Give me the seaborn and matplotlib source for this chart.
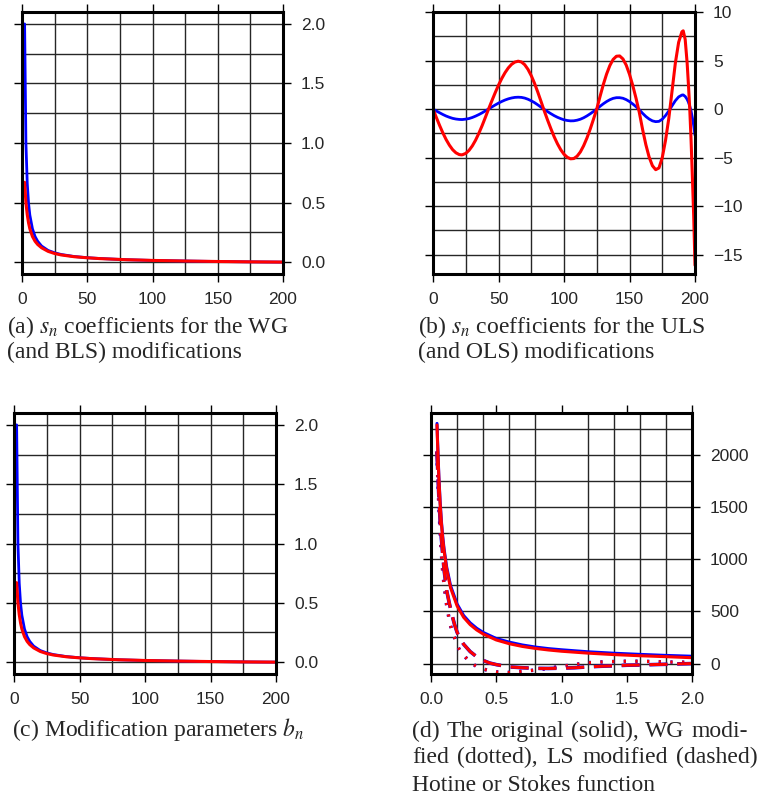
import numpy as np
import pandas as pd
import matplotlib
matplotlib.use("Agg")
import matplotlib.pyplot as plt
from matplotlib.ticker import MultipleLocator
import seaborn as sns

# (a) s_n coefficients, WG (blue) and BLS (red)
n_a = [2, 3, 4, 5, 6, 8, 10, 12, 15, 20, 25, 30, 40, 50, 60, 80, 100, 125, 150, 175, 200]
sn_wg = [2.0, 1.0, 0.665, 0.495, 0.395, 0.28, 0.215, 0.175, 0.135, 0.098, 0.078, 0.064,
         0.047, 0.037, 0.030, 0.020, 0.014, 0.009, 0.005, 0.002, 0.0]
sn_bls = [0.67, 0.50, 0.40, 0.33, 0.28, 0.215, 0.175, 0.148, 0.12, 0.09, 0.072, 0.06,
          0.045, 0.036, 0.029, 0.020, 0.014, 0.009, 0.005, 0.002, 0.0]

# (b) s_n coefficients, ULS (blue) and OLS (red)
n_b = [0, 2.5, 5, 7.5, 10, 12.5, 15, 17.5, 20, 21.6,
       22.5, 25, 27.5, 30, 32.5, 35, 37.5, 40, 42.5, 45,
       47.5, 50, 52.5, 55, 57.5, 60, 62.5, 65, 67.5, 70,
       72.5, 75, 77.5, 80, 82.5, 85, 87.5, 90, 92.5, 95,
       97.5, 100, 102.5, 105, 107.5, 110, 112.5, 115, 117.5, 120,
       122.5, 125, 127.5, 130, 132.5, 135, 137.5, 140, 142.5, 145,
       147.5, 150, 152.5, 155, 157.5, 160, 162.5, 165, 167.5, 170,
       172.5, 175, 177.5, 180, 182.5, 185, 187.5, 190, 191, 192.5,
       194, 195, 196, 197, 198, 199, 200]
sn_ols = [0.0, -0.85, -1.68, -2.45, -3.14, -3.72, -4.19, -4.51, -4.69, -4.72,
          -4.71, -4.57, -4.26, -3.80, -3.21, -2.50, -1.71, -0.85, 0.03, 0.87,
          1.69, 2.46, 3.15, 3.75, 4.24, 4.61, 4.84, 4.93, 4.85, 4.57,
          4.09, 3.44, 2.65, 1.74, 0.77, -0.22, -1.15, -2.03, -2.86, -3.58,
          -4.19, -4.66, -4.97, -5.13, -5.10, -4.86, -4.42, -3.78, -2.99, -2.07,
          -1.05, 0.0, 1.29, 2.52, 3.60, 4.48, 5.11, 5.44, 5.47, 5.16,
          4.52, 3.58, 2.42, 1.10, -0.36, -2.11, -3.68, -4.96, -5.84, -6.25,
          -6.07, -5.01, -3.23, -0.96, 1.88, 4.74, 6.87, 7.96, 8.06, 7.18,
          4.74, 2.49, 0.0, -3.2, -7.0, -11.0, -16.1]
sn_uls = [0.0, -0.20, -0.38, -0.56, -0.72, -0.85, -0.96, -1.03, -1.07, -1.08,
          -1.08, -1.04, -0.98, -0.87, -0.73, -0.57, -0.39, -0.19, 0.01, 0.22,
          0.42, 0.61, 0.78, 0.93, 1.05, 1.14, 1.20, 1.22, 1.20, 1.13,
          1.01, 0.85, 0.66, 0.43, 0.19, -0.05, -0.27, -0.48, -0.68, -0.85,
          -0.99, -1.11, -1.18, -1.22, -1.21, -1.15, -1.05, -0.90, -0.71, -0.49,
          -0.25, 0.0, 0.28, 0.54, 0.77, 0.96, 1.10, 1.17, 1.17, 1.11,
          0.97, 0.77, 0.52, 0.24, -0.07, -0.44, -0.77, -1.03, -1.22, -1.30,
          -1.27, -1.05, -0.67, -0.20, 0.34, 0.86, 1.25, 1.44, 1.46, 1.30,
          1.00, 0.70, 0.30, -0.20, -0.90, -1.70, -2.70]

# (c) modification parameters b_n
n_c = [2, 3, 4, 5, 6, 8, 10, 12, 15, 20, 25, 30, 40, 50, 60, 80, 100, 125, 150, 175, 200]
bn_blue = [2.0, 1.0, 0.665, 0.495, 0.395, 0.28, 0.215, 0.175, 0.135, 0.098, 0.078, 0.064,
           0.047, 0.037, 0.030, 0.020, 0.014, 0.009, 0.005, 0.002, 0.0]
bn_red = [0.67, 0.50, 0.40, 0.33, 0.28, 0.215, 0.175, 0.148, 0.12, 0.09, 0.072, 0.06,
          0.045, 0.036, 0.029, 0.020, 0.014, 0.009, 0.005, 0.002, 0.0]

# (d) original / modified Stokes (blue) and Hotine (red) functions
psi = [0.046, 0.05, 0.06, 0.07, 0.08, 0.09, 0.1, 0.12, 0.15, 0.2, 0.25, 0.3, 0.35, 0.4,
       0.5, 0.6, 0.7, 0.8, 0.9, 1.0, 1.2, 1.4, 1.6, 1.8, 2.0]
stokes = [2300, 2140, 1800, 1550, 1360, 1215, 1100, 925, 745, 570, 460, 390, 338, 298,
          240, 205, 178, 158, 143, 132, 113, 99, 88, 78, 70]
hotine = [2285, 2120, 1780, 1530, 1340, 1195, 1080, 905, 725, 552, 443, 373, 322, 283,
          226, 190, 164, 145, 130, 118, 100, 86, 75, 66, 56]
psi_mod = [0.045, 0.05, 0.06, 0.07, 0.08, 0.09, 0.1, 0.12, 0.14, 0.16, 0.18, 0.2, 0.22,
           0.25, 0.3, 0.35, 0.4, 0.45, 0.5, 0.6, 0.7, 0.8, 0.9, 1.0, 1.1, 1.2, 1.3, 1.4,
           1.5, 1.6, 1.7, 1.8, 1.9, 2.0]
wg_mod = [2030, 1860, 1530, 1270, 1050, 880, 760, 560, 420, 310, 250, 175, 127, 80, 12,
          -28, -52, -70, -80, -85, -74, -62, -45, -26, -10, 8, 15, 19, 22, 22, 19, 15, 13, 12]
ls_mod = [2030, 1900, 1600, 1370, 1190, 1040, 900, 700, 580, 470, 375, 300, 245, 185, 115,
          65, 30, 5, -10, -32, -40, -46, -47, -44, -40, -32, -26, -22, -16, -14, -10, -7, -3, 0]

sns.set_style("white")
plt.rcParams["font.family"] = ["Liberation Sans", "DejaVu Sans"]
plt.rcParams["mathtext.fontset"] = "stix"
plt.rcParams["lines.scale_dashes"] = False

W, H = 760, 801
fig = plt.figure(figsize=(W / 100, H / 100), dpi=100)


def make_axes(l, t, r, b):
    return fig.add_axes([l / W, 1 - b / H, (r - l) / W, (b - t) / H])


def style_axes(ax, xmaj, xmin, ymaj, ymin, xmajor_grid=True):
    ax.xaxis.set_major_locator(MultipleLocator(xmaj))
    ax.xaxis.set_minor_locator(MultipleLocator(xmin))
    ax.yaxis.set_major_locator(MultipleLocator(ymaj))
    ax.yaxis.set_minor_locator(MultipleLocator(ymin))
    ax.grid(True, which="minor", color="0.15", lw=1.0)
    ax.yaxis.grid(True, which="major", color="0.15", lw=1.0)
    if xmajor_grid:
        ax.xaxis.grid(True, which="major", color="0.15", lw=1.0)
    else:
        ax.xaxis.grid(False, which="major")
    ax.set_axisbelow(True)
    for s in ax.spines.values():
        s.set_linewidth(2.2)
        s.set_color("black")
        s.set_visible(True)
    ax.tick_params(which="major", direction="out", length=6, width=1.0, color="black",
                   left=True, right=True, top=True, bottom=True,
                   labelleft=False, labelright=True, labelsize=12.5, pad=7)
    ax.tick_params(which="minor", length=0)
    ax.set_xlabel("")
    ax.set_ylabel("")


def minus(s):
    return s.replace("-", "\u2212")


# (a)
ax = make_axes(22, 12, 283, 274)
sns.lineplot(x=n_a, y=sn_wg, ax=ax, color="blue", lw=2.0)
sns.lineplot(x=n_a, y=sn_bls, ax=ax, color="red", lw=2.2)
style_axes(ax, 50, 25, 0.5, 0.25)
ax.set_xticks([0, 50, 100, 150, 200])
ax.set_yticks([0, 0.5, 1.0, 1.5, 2.0])
ax.set_yticklabels([f"{v:.1f}" for v in [0, 0.5, 1.0, 1.5, 2.0]])
ax.set_xlim(0, 200)
ax.set_ylim(-0.1, 2.1)

# (b)
ax = make_axes(433, 12, 695, 274)
sns.lineplot(x=n_b, y=sn_uls, ax=ax, color="blue", lw=2.0)
sns.lineplot(x=n_b, y=sn_ols, ax=ax, color="red", lw=2.2)
style_axes(ax, 50, 25, 5, 2.5)
ax.set_xticks([0, 50, 100, 150, 200])
ax.set_yticks([-15, -10, -5, 0, 5, 10])
ax.set_yticklabels([minus(str(v)) for v in [-15, -10, -5, 0, 5, 10]])
ax.set_xlim(0, 200)
ax.set_ylim(-17, 10)

# (c)
ax = make_axes(14, 413, 276, 674)
sns.lineplot(x=n_c, y=bn_blue, ax=ax, color="blue", lw=2.0)
sns.lineplot(x=n_c, y=bn_red, ax=ax, color="red", lw=2.2)
style_axes(ax, 50, 25, 0.5, 0.25)
ax.set_xticks([0, 50, 100, 150, 200])
ax.set_yticks([0, 0.5, 1.0, 1.5, 2.0])
ax.set_yticklabels([f"{v:.1f}" for v in [0, 0.5, 1.0, 1.5, 2.0]])
ax.set_xlim(0, 200)
ax.set_ylim(-0.1, 2.1)

# (d)
ax = make_axes(431, 413, 692, 674)
dot = (0, (1.6, 6.8))
dash = (0, (13, 7))
sns.lineplot(x=psi_mod, y=wg_mod, ax=ax, color="blue", lw=2.6, linestyle=dot)
sns.lineplot(x=psi_mod, y=wg_mod, ax=ax, color="red", lw=2.2, linestyle=dot)
sns.lineplot(x=psi_mod, y=ls_mod, ax=ax, color="blue", lw=2.6, linestyle=dash)
sns.lineplot(x=psi_mod, y=ls_mod, ax=ax, color="red", lw=2.2, linestyle=dash)
sns.lineplot(x=psi, y=stokes, ax=ax, color="blue", lw=2.2)
sns.lineplot(x=psi, y=hotine, ax=ax, color="red", lw=2.2)
style_axes(ax, 0.5, 0.2, 500, 250, xmajor_grid=False)
ax.set_xticks([0, 0.5, 1.0, 1.5, 2.0])
ax.set_xticklabels([f"{v:.1f}" for v in [0, 0.5, 1.0, 1.5, 2.0]])
ax.set_yticks([0, 500, 1000, 1500, 2000])
ax.set_yticklabels([str(v) for v in [0, 500, 1000, 1500, 2000]])
ax.set_xlim(0, 2)
ax.set_ylim(-100, 2400)

# captions
cap = dict(family=["Liberation Serif", "DejaVu Serif"], size=17, va="baseline", ha="left")


def put(x, y, s):
    fig.text(x / W, 1 - y / H, s, **cap)


def put_justified(x0, x1, y, s):
    # spread the words so the line runs from x0 to x1 (pixels)
    words = s.split(" ")
    texts = [fig.text(0, 0, w, **cap) for w in words]
    rend = fig.canvas.get_renderer()
    widths = [t.get_window_extent(rend).width for t in texts]
    gap = (x1 - x0 - sum(widths)) / (len(words) - 1)
    x = x0
    for t, w in zip(texts, widths):
        t.set_position((x / W, 1 - y / H))
        x += w + gap


put(7, 333, "(a) $s_n$ coefficients for the WG")
put(7, 358, "(and BLS) modifications")
put(418, 333, "(b) $s_n$ coefficients for the ULS")
put(418, 358, "(and OLS) modifications")
put(12, 736, "(c) Modification parameters $b_n$")
put_justified(412, 748, 737, "(d) The original (solid), WG modi-")
put_justified(412, 758, 763, "fied (dotted), LS modified (dashed)")
put(412, 791, "Hotine or Stokes function")

fig.savefig("out.png", dpi=100)
